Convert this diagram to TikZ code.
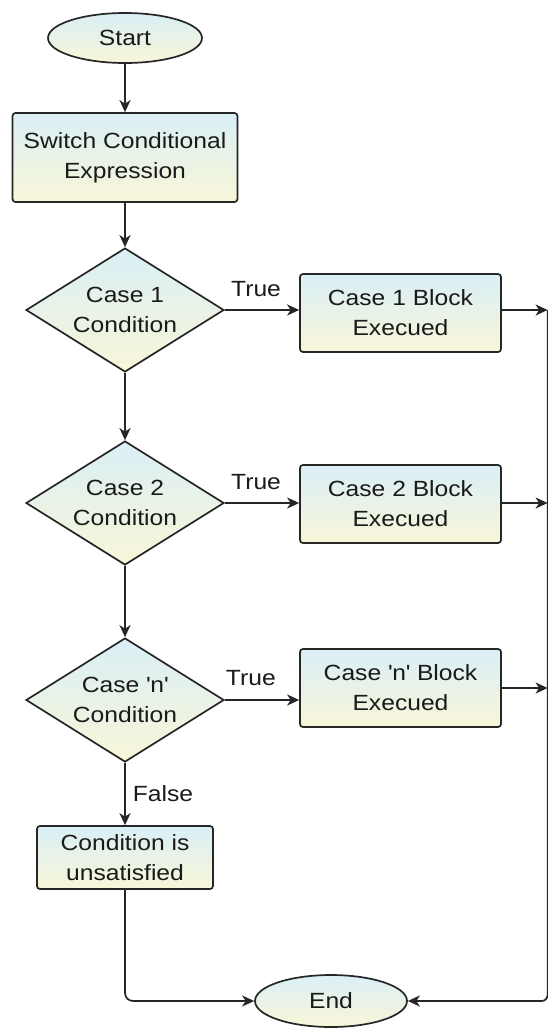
\documentclass[tikz,border=0pt]{standalone}
\usepackage{fontspec}
\setmainfont{Liberation Sans}[FakeStretch=1.12]
\usetikzlibrary{shapes.geometric,arrows.meta}
\definecolor{ln}{HTML}{262626}
\definecolor{ftop}{HTML}{DAEFF6}
\definecolor{fbot}{HTML}{F8F6D8}
\definecolor{txt}{HTML}{1A1A1A}
\begin{document}
\begin{tikzpicture}[x=1pt,y=-1pt,
  base/.style={draw=ln, line width=1.7pt, top color=ftop, bottom color=fbot,
    text=txt, font=\fontsize{22}{30}\selectfont, align=center, inner sep=0pt},
  term/.style={base, ellipse},
  proc/.style={base, rectangle, rounded corners=3pt},
  dec/.style={base, diamond, aspect=1.6, minimum width=198pt, minimum height=124pt},
  caseblk/.style={proc, minimum width=201pt, minimum height=78pt},
  arr/.style={draw=ln, line width=1.7pt, -{Stealth[length=12pt,width=11pt,inset=3.5pt]}},
  lbl/.style={text=txt, font=\fontsize{22}{30}\selectfont, inner sep=1pt}]
\useasboundingbox (0,0) rectangle (547,1028);
\fill[white] (0,0) rectangle (547,1028);

\node[term, minimum width=154pt, minimum height=50pt] (start) at (125,38) {Start};
\node[proc, minimum width=225pt, minimum height=89pt] (switch) at (125,157.5) {Switch Conditional\\Expression};
\node[dec] (d1) at (125,310) {Case 1\\Condition};
\node[caseblk] (b1) at (400.5,313) {Case 1 Block\\Execued};
\node[dec] (d2) at (125,503) {Case 2\\Condition};
\node[caseblk] (b2) at (400.5,504) {Case 2 Block\\Execued};
\node[dec] (d3) at (125,700) {Case \textquotesingle n\textquotesingle\\Condition};
\node[caseblk] (bn) at (400.5,688) {Case \textquotesingle n\textquotesingle{} Block\\Execued};
\node[proc, minimum width=176pt, minimum height=63pt] (unsat) at (125,857.5) {Condition is\\unsatisfied};
\node[term, minimum width=152pt, minimum height=52pt] (end) at (331,1001) {End};

\coordinate (r1) at (547.6,310);
\coordinate (r2) at (547.6,503);
\coordinate (r3) at (547.6,688);
\coordinate (rbot) at (547.6,1001);

\draw[arr] (start) -- (switch);
\draw[arr] (switch) -- (d1);
\draw[arr] (d1) -- (d2);
\draw[arr] (d2) -- (d3);
\draw[arr] (d3) -- node[lbl, right=6pt] {False} (unsat);

\draw[arr] (d1.east) -- node[lbl, above=11pt, pos=0.42] {True} (d1.east -| b1.west);
\draw[arr] (d2.east) -- node[lbl, above=11pt, pos=0.42] {True} (d2.east -| b2.west);
\draw[arr] (d3.east) -- node[lbl, above=12pt, pos=0.35] {True} (d3.east -| bn.west);

\draw[arr] (d1.east -| b1.east) -- (r1);
\draw[arr] (d2.east -| b2.east) -- (r2);
\draw[arr] (bn.east) -- (r3);

\draw[arr, rounded corners=8pt] (unsat.south) -- (unsat.south |- end.west) -- (end.west);
\draw[arr, rounded corners=6pt] (r1) -- (rbot) -- (end.east);
\end{tikzpicture}
\end{document}
